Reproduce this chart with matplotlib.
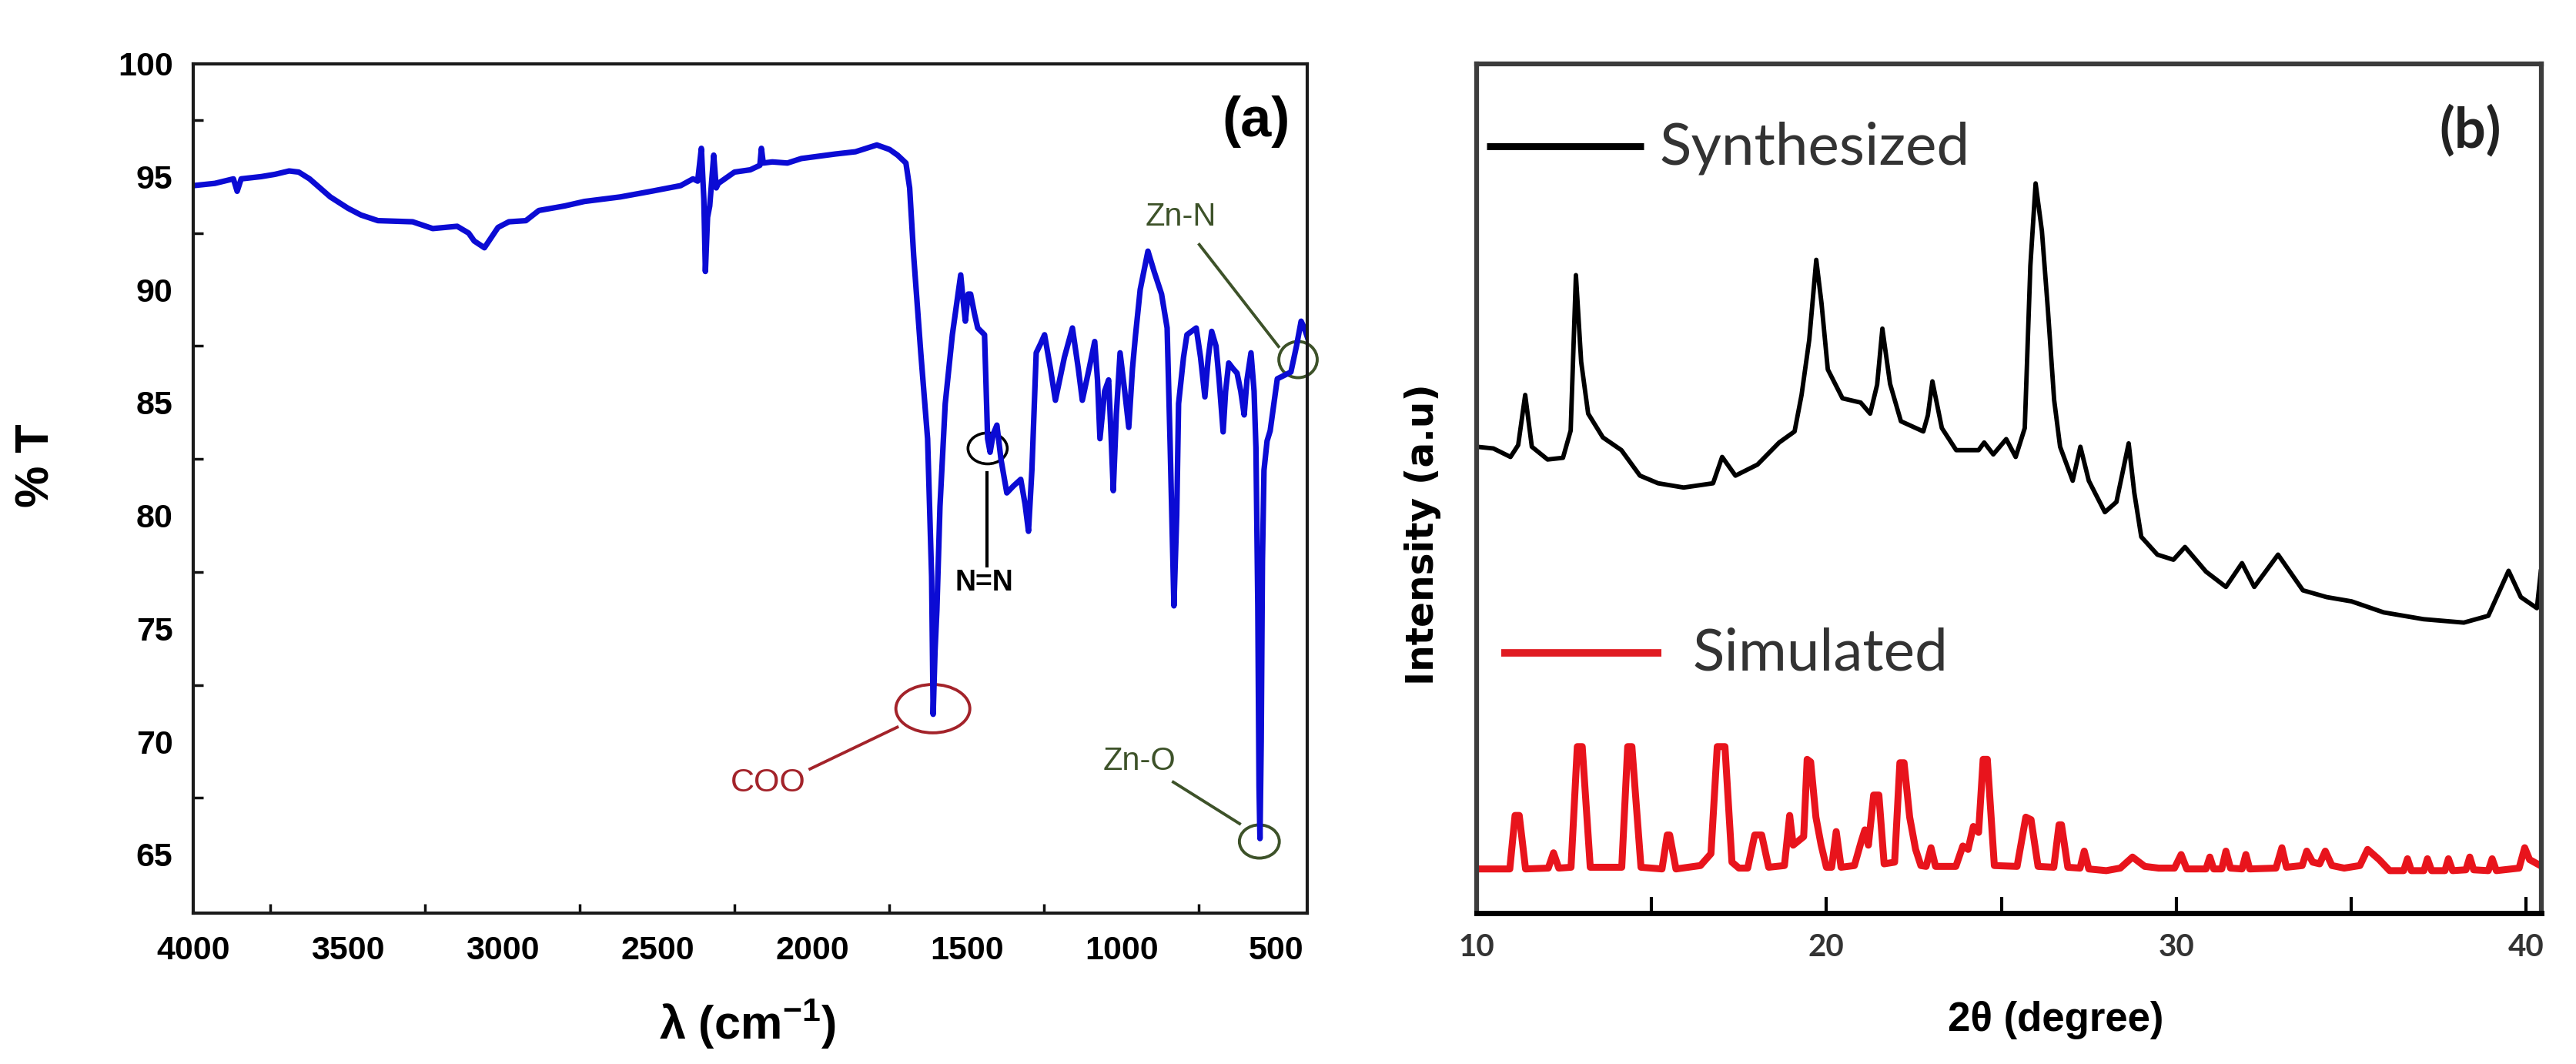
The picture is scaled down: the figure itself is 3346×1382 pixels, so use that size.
import matplotlib
matplotlib.use('Agg')
import matplotlib.pyplot as plt
from matplotlib.patches import Ellipse

# ---- FTIR spectrum (a) ----
ir_wavenumber = [4000, 3930, 3870, 3858, 3845, 3780, 3736, 3690, 3659, 3624,
                 3557, 3500, 3458, 3403, 3291, 3226, 3147, 3110, 3092, 3059,
                 3015, 2980, 2925, 2883, 2800, 2736, 2620, 2520, 2425, 2385,
                 2370, 2358, 2350, 2345, 2338, 2331, 2318, 2310, 2303, 2251,
                 2200, 2169, 2164, 2158, 2129, 2080, 2035, 1980, 1925, 1860,
                 1791, 1750, 1724, 1697, 1685, 1672, 1649, 1627, 1614, 1609,
                 1603, 1597, 1587, 1570, 1547, 1520, 1512, 1505, 1496, 1488,
                 1475, 1465, 1443, 1433, 1425, 1415, 1403, 1390, 1371, 1350,
                 1326, 1312, 1301, 1290, 1276, 1262, 1249, 1230, 1214, 1185,
                 1159, 1140, 1127, 1105, 1087, 1078, 1070, 1055, 1042, 1034,
                 1027, 1017, 1005, 990, 977, 965, 955, 940, 915, 895,
                 871, 853, 843, 831, 822, 816, 800, 789, 759, 745,
                 731, 720, 709, 695, 685, 672, 664, 654, 640, 627,
                 615, 604, 595, 582, 572, 566, 560, 556, 553, 549,
                 545, 540, 530, 520, 497, 475, 453, 435, 420, 410,
                 400]
ir_transmittance = [94.6, 94.7, 94.9, 94.35, 94.9, 95.0, 95.1, 95.25, 95.2, 94.9,
                    94.1, 93.6, 93.3, 93.05, 93.0, 92.7, 92.8, 92.5, 92.15, 91.85,
                    92.75, 93.0, 93.05, 93.5, 93.7, 93.9, 94.1, 94.35, 94.6, 94.9,
                    94.8, 96.25, 94.0, 90.8, 93.2, 93.7, 95.95, 94.5, 94.7, 95.2,
                    95.3, 95.5, 96.25, 95.6, 95.65, 95.6, 95.8, 95.9, 96.0, 96.1,
                    96.4, 96.2, 95.95, 95.6, 94.5, 91.5, 87.2, 83.4, 77.3, 71.2,
                    74.0, 75.8, 80.4, 84.95, 88.0, 90.65, 89.5, 88.6, 89.8, 89.8,
                    88.9, 88.3, 88.0, 83.4, 82.8, 83.6, 84.0, 82.5, 81.0, 81.3,
                    81.6, 80.5, 79.3, 82.0, 87.2, 87.6, 88.0, 86.5, 85.1, 87.0,
                    88.3, 86.5, 85.1, 86.5, 87.7, 86.0, 83.4, 85.5, 86.0, 83.5,
                    81.1, 84.5, 87.2, 85.5, 83.9, 86.5, 88.0, 90.0, 91.7, 90.8,
                    89.8, 88.3, 83.0, 76.0, 80.0, 84.95, 87.0, 88.0, 88.3, 87.0,
                    85.25, 87.0, 88.15, 87.5, 86.0, 83.7, 85.5, 86.75, 86.5, 86.3,
                    85.5, 84.45, 86.0, 87.2, 85.5, 83.0, 76.0, 68.0, 65.7, 70.0,
                    78.0, 82.0, 83.3, 83.75, 86.05, 86.2, 86.35, 87.5, 88.6, 88.3,
                    87.9]
ir_xlabels = [4000, 3500, 3000, 2500, 2000, 1500, 1000, 500]
ir_xminor = [3750, 3250, 2750, 2250, 1750, 1250, 750]
ir_ylabels = [65, 70, 75, 80, 85, 90, 95, 100]
ir_yminor = [67.5, 72.5, 77.5, 82.5, 87.5, 92.5, 97.5]

# ---- XRD patterns (b) ----
syn_2theta = [10.00, 10.48, 10.97, 11.19, 11.39, 11.58, 12.03, 12.47, 12.69, 12.84,
              12.99, 13.19, 13.61, 14.14, 14.67, 15.19, 15.92, 16.76, 17.02, 17.40,
              18.03, 18.65, 19.09, 19.29, 19.51, 19.71, 19.86, 20.04, 20.46, 20.98,
              21.25, 21.45, 21.60, 21.82, 22.13, 22.77, 22.90, 23.03, 23.30, 23.71,
              24.35, 24.51, 24.77, 25.14, 25.41, 25.67, 25.83, 25.98, 26.16, 26.33,
              26.51, 26.68, 27.04, 27.26, 27.50, 27.96, 28.29, 28.64, 28.80, 29.00,
              29.46, 29.92, 30.25, 30.85, 31.42, 31.88, 32.23, 32.91, 33.62, 34.30,
              35.01, 35.93, 37.07, 38.22, 38.92, 39.50, 39.85, 40.31, 40.42]
syn_intensity = [54.9, 54.7, 53.7, 55.1, 61.0, 54.9, 53.4, 53.6, 56.8, 75.1,
                 64.9, 58.8, 56.0, 54.5, 51.5, 50.6, 50.1, 50.6, 53.7, 51.5,
                 52.8, 55.4, 56.7, 61.0, 67.5, 76.9, 71.8, 64.0, 60.6, 60.1,
                 58.8, 62.2, 68.8, 62.3, 57.9, 56.7, 58.6, 62.6, 57.1, 54.5,
                 54.5, 55.4, 54.0, 55.8, 53.7, 57.1, 76.2, 85.9, 80.3, 71.1,
                 60.4, 54.9, 50.9, 54.9, 50.9, 47.2, 48.4, 55.3, 49.5, 44.3,
                 42.2, 41.6, 43.1, 40.2, 38.4, 41.2, 38.4, 42.2, 38.0, 37.2,
                 36.7, 35.4, 34.6, 34.2, 35.0, 40.3, 37.2, 35.9, 40.2]

sim_2theta = [10.0, 10.95, 11.1, 11.22, 11.4, 12.05, 12.2, 12.35, 12.7, 12.88,
              13.02, 13.25, 14.15, 14.32, 14.44, 14.7, 15.3, 15.45, 15.52, 15.7,
              16.4, 16.7, 16.88, 17.1, 17.3, 17.5, 17.75, 17.95, 18.15, 18.35,
              18.8, 18.95, 19.05, 19.35, 19.45, 19.55, 19.7, 19.85, 20.0, 20.15,
              20.28, 20.42, 20.8, 21.0, 21.1, 21.2, 21.35, 21.5, 21.65, 21.95,
              22.1, 22.22, 22.38, 22.55, 22.7, 22.85, 22.99, 23.12, 23.7, 23.9,
              24.05, 24.2, 24.35, 24.48, 24.6, 24.8, 25.45, 25.7, 25.85, 26.05,
              26.5, 26.65, 26.72, 26.9, 27.25, 27.37, 27.5, 28.0, 28.4, 28.75,
              29.1, 29.5, 29.95, 30.14, 30.3, 30.85, 30.96, 31.07, 31.3, 31.42,
              31.55, 31.88, 31.99, 32.1, 32.85, 33.02, 33.15, 33.6, 33.73, 33.9,
              34.1, 34.26, 34.45, 34.8, 35.25, 35.47, 35.8, 36.1, 36.5, 36.61,
              36.72, 37.08, 37.18, 37.3, 37.68, 37.78, 37.9, 38.28, 38.39, 38.5,
              38.92, 39.03, 39.15, 39.8, 39.96, 40.1, 40.45]
sim_intensity = [5.2, 5.2, 11.5, 11.5, 5.2, 5.3, 7.1, 5.3, 5.4, 19.6,
                 19.6, 5.4, 5.4, 19.6, 19.6, 5.4, 5.2, 9.2, 9.2, 5.2,
                 5.6, 7.0, 19.6, 19.6, 6.0, 5.3, 5.3, 9.2, 9.2, 5.4,
                 5.6, 11.5, 8.0, 9.0, 18.1, 17.8, 11.3, 8.0, 5.4, 5.4,
                 9.6, 5.4, 5.6, 8.5, 9.8, 8.0, 13.9, 13.9, 5.8, 6.0,
                 17.7, 17.7, 11.3, 7.5, 5.6, 5.5, 7.7, 5.5, 5.5, 7.9,
                 7.5, 10.2, 9.5, 18.1, 18.1, 5.6, 5.5, 11.3, 11.0, 5.5,
                 5.4, 10.4, 10.4, 5.4, 5.3, 7.3, 5.2, 5.0, 5.3, 6.6,
                 5.5, 5.3, 5.3, 6.9, 5.2, 5.2, 6.6, 5.2, 5.2, 7.3,
                 5.3, 5.2, 6.9, 5.2, 5.3, 7.7, 5.4, 5.6, 7.3, 6.0,
                 5.8, 7.3, 5.6, 5.3, 5.6, 7.5, 6.3, 5.0, 5.0, 6.4,
                 5.0, 5.0, 6.4, 5.0, 5.0, 6.4, 5.0, 5.1, 6.6, 5.1,
                 5.0, 6.4, 5.0, 5.3, 7.7, 6.3, 5.5]
xrd_ticks = [10, 15, 20, 25, 30, 35, 40]
xrd_ticklabels = ['10', '', '20', '', '30', '', '40']

plt.rcParams['font.family'] = ['Liberation Sans', 'DejaVu Sans']
plt.rcParams['mathtext.fontset'] = 'custom'
plt.rcParams['mathtext.rm'] = 'Liberation Sans'
plt.rcParams['mathtext.bf'] = 'Liberation Sans:bold'

W, H = 3346, 1382
fig = plt.figure(figsize=(W / 100, H / 100), dpi=100)
ax1 = fig.add_axes([0.0750, 0.1418, 0.4325, 0.7984])
ax2 = fig.add_axes([0.5732, 0.1418, 0.4134, 0.7984])

# ---------- panel (a) ----------
ax1.plot(ir_wavenumber, ir_transmittance, color='#0b0bd4', lw=5.2,
         solid_joinstyle='round')
ax1.set_xlim(4000, 400)
ax1.set_ylim(62.4, 100)
ax1.set_xticks(ir_xlabels)
ax1.set_xticks(ir_xminor, minor=True)
ax1.set_yticks(ir_ylabels)
ax1.set_yticks(ir_yminor, minor=True)
ax1.tick_params(which='major', length=0, labelsize=31)
ax1.tick_params(axis='x', which='major', pad=21)
ax1.tick_params(axis='y', which='major', pad=19)
ax1.tick_params(which='minor', direction='in', length=9, width=2.5, color='#111111')
for lab in ax1.get_xticklabels() + ax1.get_yticklabels():
    lab.set_fontweight('bold')
for sp in ax1.spines.values():
    sp.set_linewidth(3)
    sp.set_color('#1a1a1a')

fig.text(48 / W, 1 - 605 / H, '% T', rotation=90, fontsize=44,
         fontweight='bold', ha='center', va='center')
fig.text(971 / W, 1 - 1330 / H, r'λ (cm$^{\mathbf{-1}}$)', fontsize=44,
         fontweight='bold', ha='center', va='center')
ax1.text(0.9537, 0.9317, '(a)', transform=ax1.transAxes, fontsize=52,
         fontweight='bold', ha='center', va='center')

coo_col = '#a3232a'
zn_col = '#3d5229'
# COO
ax1.add_patch(Ellipse((1610, 71.45), 239, 2.14, fill=False, ec=coo_col, lw=2.8))
ax1.plot([1725, 2007], [70.63, 68.78], color=coo_col, lw=2.8)
ax1.text(2142, 68.17, 'COO', color=coo_col, fontsize=31, ha='center', va='center')
# N=N
ax1.add_patch(Ellipse((1433, 82.97), 127, 1.37, fill=False, ec='black', lw=2.6))
ax1.plot([1435, 1435], [81.89, 77.77], color='black', lw=3)
ax1.text(1443, 77.02, 'N=N', color='black', fontsize=27, fontweight='bold',
         ha='center', va='center')
# Zn-O
ax1.add_patch(Ellipse((555, 65.57), 129, 1.47, fill=False, ec=zn_col, lw=2.8))
ax1.plot([833, 619], [68.2, 66.36], color=zn_col, lw=2.8)
ax1.text(943, 69.13, 'Zn-O', color=zn_col, fontsize=30, ha='center', va='center')
# Zn-N
ax1.add_patch(Ellipse((430, 86.9), 124, 1.6, fill=False, ec=zn_col, lw=2.8,
                      clip_on=False))
ax1.plot([749, 493], [91.99, 87.48], color=zn_col, lw=2.8)
ax1.text(808, 93.22, 'Zn-N', color=zn_col, fontsize=30, ha='center', va='center')

# ---------- panel (b) ----------
ax2.plot(syn_2theta, syn_intensity, color='black', lw=4.2, solid_joinstyle='round')
ax2.plot(sim_2theta, sim_intensity, color='#e8141c', lw=6.5, solid_joinstyle='round')
ax2.set_xlim(10, 40.44)
ax2.set_ylim(0, 100)
ax2.set_yticks([])
ax2.set_xticks(xrd_ticks)
ax2.set_xticklabels(xrd_ticklabels)
ax2.tick_params(axis='x', direction='in', length=15, width=3, pad=19,
                labelsize=29, labelcolor='#333333')
for lab in ax2.get_xticklabels():
    lab.set_fontfamily(['Lato', 'DejaVu Sans'])
    lab.set_fontweight('bold')
for name, sp in ax2.spines.items():
    sp.set_linewidth(4.5)
    sp.set_color('#3c3c3c')
ax2.spines['bottom'].set_color('black')
ax2.spines['bottom'].set_linewidth(5)

ax2.plot([0.0094, 0.1569], [0.903, 0.903], transform=ax2.transAxes,
         color='black', lw=6.5, solid_capstyle='butt')
ax2.text(0.172, 0.901, 'Synthesized', transform=ax2.transAxes, fontsize=55,
         family=['Lato', 'DejaVu Sans'], color='#333333', ha='left', va='center')
ax2.plot([0.023, 0.1735], [0.3064, 0.3064], transform=ax2.transAxes,
         color='#e01b22', lw=7, solid_capstyle='butt')
ax2.text(0.203, 0.305, 'Simulated', transform=ax2.transAxes, fontsize=55,
         family=['Lato', 'DejaVu Sans'], color='#333333', ha='left', va='center')
ax2.text(0.9328, 0.921, '(b)', transform=ax2.transAxes, fontsize=52,
         family=['Lato', 'DejaVu Sans'], fontweight='bold', color='#222222',
         ha='center', va='center')

fig.text(1848 / W, 1 - 694 / H, 'Intensity (a.u)', rotation=90, fontsize=35,
         family=['DejaVu Sans'], fontweight='bold', ha='center', va='center')
fig.text(2670 / W, 1 - 1325 / H, '2θ (degree)', fontsize=38,
         fontweight='bold', ha='center', va='center')

fig.savefig('out.png', dpi=100)
